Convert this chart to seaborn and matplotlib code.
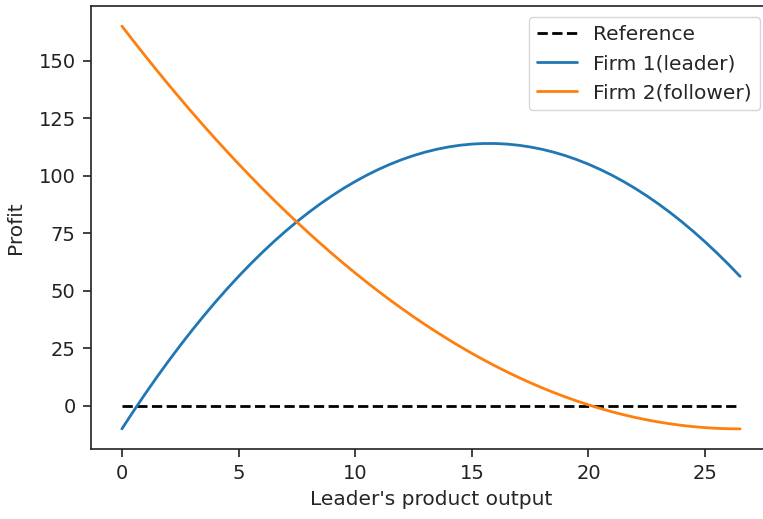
import matplotlib
matplotlib.use("Agg")
import matplotlib.pyplot as plt
import seaborn as sns
import pandas as pd

output = [0, 0.5, 1, 1.5, 2, 2.5, 3, 3.5, 4, 4.5, 5, 5.5, 6, 6.5, 7, 7.5, 8, 8.5,
          9, 9.5, 10, 10.5, 11, 11.5, 12, 12.5, 13, 13.5, 14, 14.5, 15, 15.5,
          16, 16.5, 17, 17.5, 18, 18.5, 19, 19.5, 20, 20.5, 21, 21.5, 22, 22.5,
          23, 23.5, 24, 24.5, 25, 25.5, 26, 26.5]
leader_profit = [-10, -2.25, 5.25, 12.5, 19.5, 26.25, 32.75, 39, 45, 50.75, 56.25,
                 61.5, 66.5, 71.25, 75.75, 80, 84, 87.75, 91.25, 94.5, 97.5,
                 100.25, 102.75, 105, 107, 108.75, 110.25, 111.5, 112.5, 113.25,
                 113.75, 114, 114, 113.75, 113.25, 112.5, 111.5, 110.25, 108.75,
                 107, 105, 102.75, 100.25, 97.5, 94.5, 91.25, 87.75, 84, 80,
                 75.75, 71.25, 66.5, 61.5, 56.25]
follower_profit = [165.0, 158.48, 152.05, 145.75, 139.57, 133.52, 127.59, 121.79,
                   116.11, 110.56, 105.13, 99.83, 94.65, 89.60, 84.67, 79.87,
                   75.19, 70.64, 66.21, 61.91, 57.73, 53.68, 49.75, 45.95, 42.27,
                   38.72, 35.29, 31.99, 28.81, 25.76, 22.83, 20.03, 17.35, 14.80,
                   12.37, 10.07, 7.89, 5.84, 3.91, 2.11, 0.43, -1.12, -2.55,
                   -3.85, -5.03, -6.08, -7.01, -7.81, -8.49, -9.04, -9.47, -9.77,
                   -9.95, -10.0]
reference = [0] * len(output)

sns.set_style("ticks")
plt.rcParams['font.family'] = ['DejaVu Sans']

fig = plt.figure(figsize=(7.63, 5.19), dpi=100)
ax = fig.add_axes([91 / 763, 70 / 519, 680 / 763, 443 / 519])

df = pd.DataFrame({"x": output, "ref": reference, "f1": leader_profit, "f2": follower_profit})

sns.lineplot(data=df, x="x", y="ref", ax=ax, color="black", linestyle="--", lw=2, label="Reference")
sns.lineplot(data=df, x="x", y="f1", ax=ax, color="#1f77b4", lw=2, label="Firm 1(leader)")
sns.lineplot(data=df, x="x", y="f2", ax=ax, color="#ff7f0e", lw=2, label="Firm 2(follower)")

ax.set_xlim(-1.325, 27.825)
ax.set_ylim(-18.75, 173.75)
ax.set_xticks([0, 5, 10, 15, 20, 25])
ax.set_yticks([0, 25, 50, 75, 100, 125, 150])
ax.set_xlabel("Leader's product output", fontsize=14.5)
ax.set_ylabel("Profit", fontsize=14.5)
ax.xaxis.set_label_coords(0.5, -0.093)
ax.yaxis.set_label_coords(-0.097, 0.5)
ax.tick_params(labelsize=14, length=6, pad=5, width=1.2, colors="#222222")
for s in ax.spines.values():
    s.set_linewidth(1.2)
    s.set_color("#222222")
ax.spines['right'].set_visible(False)
leg = ax.legend(loc="upper right", fontsize=14.5, frameon=True, borderaxespad=0.55)

fig.savefig("out.png", dpi=100)
